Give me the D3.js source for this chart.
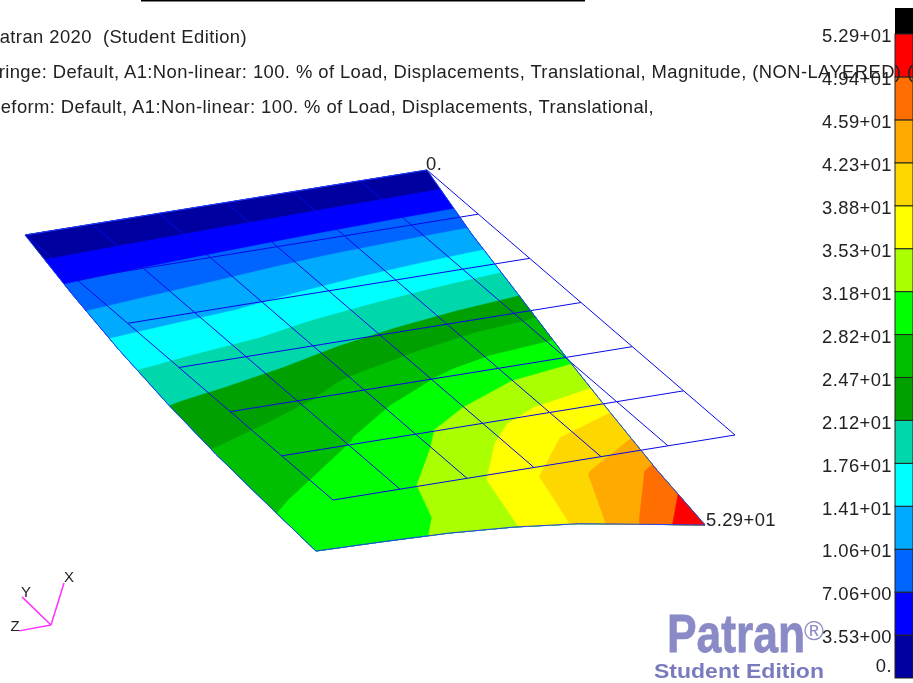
<!DOCTYPE html>
<html>
<head>
<meta charset="utf-8">
<script src="https://cdn.jsdelivr.net/npm/d3@7"></script>
<style>
html, body { margin: 0; padding: 0; background: #fff; overflow: hidden; }
svg { display: block; filter: blur(0.35px); }
text { font-family: "Liberation Sans", Arial, sans-serif; fill: #222; white-space: pre; }
.small { font-size: 18.4px; letter-spacing: 0.42px; }
</style>
</head>
<body>
<svg id="plot" width="913" height="679"></svg>
<script>
"use strict";

var titleLines = [
    "Patran 2020  (Student Edition)",
    "Fringe: Default, A1:Non-linear: 100. % of Load, Displacements, Translational, Magnitude, (NON-LAYERED) (",
    "Deform: Default, A1:Non-linear: 100. % of Load, Displacements, Translational,"
]

// fringe levels, bottom to top of the legend
var levelValues = [0, 3.53, 7.06, 10.6, 14.1, 17.6, 21.2, 24.7, 28.2, 31.8, 35.3, 38.8, 42.3, 45.9, 49.4, 52.9]
var levelLabels = ["0.", "3.53+00", "7.06+00", "1.06+01", "1.41+01", "1.76+01", "2.12+01", "2.47+01",
    "2.82+01", "3.18+01", "3.53+01", "3.88+01", "4.23+01", "4.59+01", "4.94+01", "5.29+01"]
var bandColors = ["#0000a0", "#0000ff", "#0064ff", "#00aaff", "#00ffff", "#00d7aa", "#00a000", "#00be00",
    "#00ff00", "#aaff00", "#ffff00", "#ffd700", "#ffaa00", "#ff6e00", "#ff0000"]

// displacement magnitude at the mesh nodes, one row per j (fixed edge first)
var row0 = [0, 0, 0, 0, 0, 0, 0]
var row1 = [8.4, 9.0, 9.6, 10.2, 10.8, 11.3, 11.7]
var row2 = [15.5, 16.1, 16.6, 17.9, 19.0, 20.0, 20.9]
var row3 = [21.0, 22.0, 23.5, 25.5, 27.5, 29.5, 30.4]
var row4 = [25.1, 26.5, 28.0, 30.8, 34.0, 37.0, 38.8]
var row5 = [27.7, 29.2, 31.0, 33.8, 38.0, 42.6, 46.7]
var row6 = [30.0, 30.9, 32.2, 35.0, 39.4, 46.1, 52.9]
var nodeRows = [row0, row1, row2, row3, row4, row5, row6]
var nodeIndex = [0, 1, 2, 3, 4, 5, 6]

var minLabel = "0."
var maxLabel = "5.29+01"

// triad directions, as fractions of the axis length
var triadNames = ["X", "Y", "Z"]
var triadDx = [0.31, -0.69, -0.76]
var triadDy = [-1.0, -0.67, 0.14]

var svg = d3.select("#plot")
var lastIndex = nodeIndex.length - 1

// undeformed mesh is a flat parallelogram on screen
var xAlongI = d3.scaleLinear().domain([0, lastIndex]).range([25, 427])
var yAlongI = d3.scaleLinear().domain([0, lastIndex]).range([235, 170])
var xAlongJ = d3.scaleLinear().domain([0, lastIndex]).range([0, 308])
var yAlongJ = d3.scaleLinear().domain([0, lastIndex]).range([0, 265])
// screen shift of a node per unit of displacement
var xShift = d3.scaleLinear().domain([0, 52.9]).range([0, -30])
var yShift = d3.scaleLinear().domain([0, 52.9]).range([0, 90])

function undeformed(i, j) {
    return [xAlongI(i) + xAlongJ(j), yAlongI(i) + yAlongJ(j)]
}

function valueAt(u, v) {
    var i0 = Math.min(Math.floor(u), lastIndex - 1)
    var j0 = Math.min(Math.floor(v), lastIndex - 1)
    var fu = u - i0
    var fv = v - j0
    var top = nodeRows[j0][i0] * (1 - fu) + nodeRows[j0][i0 + 1] * fu
    var bot = nodeRows[j0 + 1][i0] * (1 - fu) + nodeRows[j0 + 1][i0 + 1] * fu
    return top * (1 - fv) + bot * fv
}

function deformed(u, v) {
    var p = undeformed(u, v)
    var val = valueAt(u, v)
    return [p[0] + xShift(val), p[1] + yShift(val)]
}

function drawFringe(group) {
    var contours = d3.contours()
        .size([nodeIndex.length, nodeRows.length])
        .smooth(true)
        .thresholds(levelValues.slice(0, bandColors.length))
    var bands = contours(nodeRows.flat())

    // contour coords sit half a cell off the nodes, outer ring gets clamped on the plate edge
    var toScreen = d3.geoTransform({
        point: function (x, y) {
            var u = Math.max(0, Math.min(lastIndex, x - 0.5))
            var v = Math.max(0, Math.min(lastIndex, y - 0.5))
            var p = deformed(u, v)
            this.stream.point(p[0], p[1])
        }
    })
    var path = d3.geoPath(toScreen)

    group.selectAll("path")
        .data(bands)
        .enter().append("path")
        .attr("d", path)
        .attr("fill", (d, k) => bandColors[k])
        .attr("stroke", (d, k) => bandColors[k])
        .attr("stroke-width", 0.4)
}

function drawMesh(group) {
    var line = d3.line()
    var meshLines = []
    nodeIndex.forEach(k => {
        meshLines.push(nodeIndex.map(i => undeformed(i, k)))
        meshLines.push(nodeIndex.map(j => undeformed(k, j)))
    })
    group.selectAll("path.mesh")
        .data(meshLines)
        .enter().append("path")
        .attr("class", "mesh")
        .attr("d", line)
        .attr("fill", "none")
        .attr("stroke", "#0808e8")
        .attr("stroke-width", 1)

    var outline = []
        .concat(nodeIndex.map(j => deformed(0, j)))
        .concat(nodeIndex.map(i => deformed(i, lastIndex)))
        .concat(nodeIndex.slice().reverse().map(j => deformed(lastIndex, j)))
    group.append("path")
        .attr("d", line(outline) + "Z")
        .attr("fill", "none")
        .attr("stroke", "#2040f0")
        .attr("stroke-width", 1)
}

function drawLegend(group) {
    var y = d3.scaleLinear().domain([0, bandColors.length]).range([678, 34])
    var legendLeft = 895
    var legendWidth = 18

    group.append("rect")
        .attr("x", legendLeft).attr("y", 8)
        .attr("width", legendWidth).attr("height", y(bandColors.length) - 8)
        .attr("fill", "#000")

    group.selectAll("rect.band")
        .data(bandColors)
        .enter().append("rect")
        .attr("class", "band")
        .attr("x", legendLeft)
        .attr("y", (d, k) => y(k + 1))
        .attr("width", legendWidth)
        .attr("height", (d, k) => y(k) - y(k + 1))
        .attr("fill", d => d)
        .attr("stroke", "#222")
        .attr("stroke-width", 1)

    var axis = d3.axisLeft(y)
        .tickValues(d3.range(levelLabels.length))
        .tickFormat(k => levelLabels[k])
        .tickSize(0)
        .tickPadding(3)

    var axisGroup = group.append("g")
        .attr("transform", "translate(" + legendLeft + ",0)")
        .call(axis)
    axisGroup.select(".domain").remove()
    axisGroup.attr("font-family", null).attr("font-size", null)
    axisGroup.selectAll("text")
        .attr("class", "small")
        .attr("fill", null)
        .attr("dy", k => k === 0 ? "-0.33em" : "0.42em")
}

function drawTriad(group) {
    var originX = 51
    var originY = 625
    var len = d3.scaleLinear().domain([0, 1]).range([0, 42])

    group.selectAll("line")
        .data(triadNames)
        .enter().append("line")
        .attr("x1", originX).attr("y1", originY)
        .attr("x2", (d, k) => originX + len(triadDx[k]))
        .attr("y2", (d, k) => originY + len(triadDy[k]))
        .attr("stroke", "#ff30ff")
        .attr("stroke-width", 1.5)

    var labelPad = [[5, -1], [4, 0], [-4, 0]]
    group.selectAll("text")
        .data(triadNames)
        .enter().append("text")
        .attr("x", (d, k) => originX + len(triadDx[k]) + labelPad[k][0])
        .attr("y", (d, k) => originY + len(triadDy[k]) + labelPad[k][1])
        .attr("text-anchor", "middle")
        .style("font-size", "15px")
        .text(d => d)
}

function drawTitles() {
    svg.append("rect")
        .attr("x", 141).attr("y", 0)
        .attr("width", 444).attr("height", 1.5)
        .attr("fill", "#000")

    svg.selectAll("text.title")
        .data(titleLines)
        .enter().append("text")
        .attr("class", "title small")
        .attr("x", -13)
        .attr("y", (d, k) => 43 + k * 35)
        .text(d => d)
}

function drawLogo() {
    svg.append("text")
        .attr("x", 667).attr("y", 652)
        .attr("textLength", 138)
        .attr("lengthAdjust", "spacingAndGlyphs")
        .style("font-weight", "bold")
        .style("font-size", "54px")
        .style("fill", "#8a8ac6")
        .style("stroke", "#8a8ac6")
        .style("stroke-width", 0.8)
        .text("Patran")
    svg.append("text")
        .attr("x", 804).attr("y", 640)
        .style("font-size", "27px")
        .style("fill", "#8a8ac6")
        .text("®")
    svg.append("text")
        .attr("x", 654).attr("y", 678)
        .attr("textLength", 170)
        .attr("lengthAdjust", "spacingAndGlyphs")
        .style("font-weight", "bold")
        .style("font-size", "21px")
        .style("fill", "#7a7abf")
        .text("Student Edition")
}

drawFringe(svg.append("g"))
drawMesh(svg.append("g"))
drawLogo()
drawLegend(svg.append("g"))
drawTriad(svg.append("g"))
drawTitles()

var cornerMin = deformed(lastIndex, 0)
var cornerMax = deformed(lastIndex, lastIndex)
svg.append("text").attr("class", "small").attr("x", cornerMin[0] - 1).attr("y", cornerMin[1] - 0)
    .text(minLabel)
svg.append("text").attr("class", "small").attr("x", cornerMax[0] + 1).attr("y", cornerMax[1] + 1)
    .text(maxLabel)
</script>
</body>
</html>
